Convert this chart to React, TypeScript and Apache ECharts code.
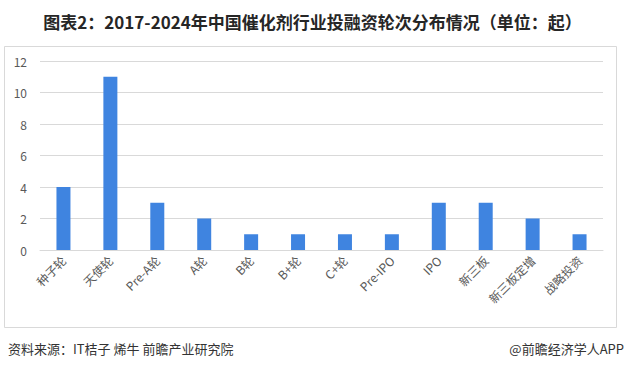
import React, { useEffect, useRef } from "react";
import * as echarts from "echarts";

const categories = ["种子轮", "天使轮", "Pre-A轮", "A轮", "B轮", "B+轮", "C+轮", "Pre-IPO", "IPO", "新三板", "新三板定增", "战略投资"];
const values = [4, 11, 3, 2, 1, 1, 1, 1, 3, 3, 2, 1];
const yTicks = { min: 0, max: 12, interval: 2 };

const FONT = "'Noto Sans CJK SC', 'Noto Sans', sans-serif";

export default function App() {
  const ref = useRef<HTMLDivElement>(null);
  useEffect(() => {
    const chart = echarts.init(ref.current!, null, { renderer: "svg" });
    chart.setOption({
      animation: false,
      backgroundColor: "#ffffff",
      textStyle: { fontFamily: FONT },
      title: {
        text: "图表2：2017-2024年中国催化剂行业投融资轮次分布情况（单位：起）",
        left: "center",
        top: 8,
        textStyle: { fontSize: 17, fontWeight: "bold", color: "#262626", fontFamily: FONT },
      },
      graphic: [
        {
          type: "rect",
          shape: { x: 4.5, y: 46.5, width: 612, height: 281 },
          style: { fill: "none", stroke: "#d9d9d9", lineWidth: 1 },
          z: 0,
        },
        {
          type: "text",
          left: 8,
          top: 342,
          style: { text: "资料来源：IT桔子 烯牛 前瞻产业研究院", fontSize: 13, fill: "#333333", fontFamily: FONT },
        },
        {
          type: "text",
          right: 1,
          top: 342,
          style: { text: "@前瞻经济学人APP", fontSize: 13, fill: "#333333", fontFamily: FONT },
        },
      ],
      grid: { left: 40, right: 22, top: 61, bottom: 121, containLabel: false },
      xAxis: {
        type: "category",
        data: categories,
        axisLine: { lineStyle: { color: "#d9d9d9" } },
        axisTick: { show: false },
        axisLabel: { rotate: 45, fontSize: 12, color: "#595959", margin: 8, interval: 0, fontFamily: FONT },
      },
      yAxis: {
        type: "value",
        min: yTicks.min,
        max: yTicks.max,
        interval: yTicks.interval,
        axisLine: { show: false },
        axisTick: { show: false },
        axisLabel: { fontSize: 12, color: "#595959", margin: 13, fontFamily: FONT },
        splitLine: { lineStyle: { color: "#d9d9d9" } },
      },
      series: [
        {
          type: "bar",
          data: values,
          barWidth: 14,
          itemStyle: { color: "#3f84e0" },
        },
      ],
    });
    return () => chart.dispose();
  }, []);
  return <div ref={ref} style={{ position: "fixed", left: 0, top: 0, width: 625, height: 371 }} />;
}
